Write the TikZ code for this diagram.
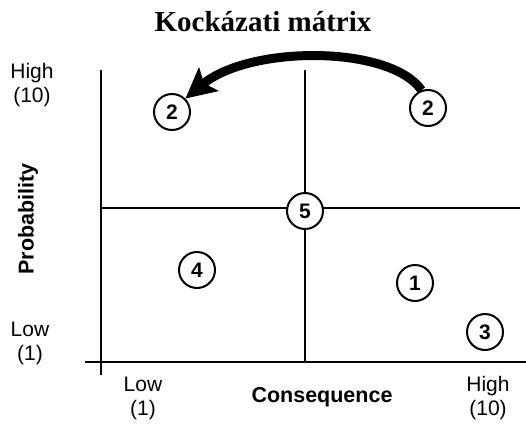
\documentclass[tikz,border=0pt]{standalone}
\usepackage{fontspec}
\setmainfont{Liberation Serif}
\setsansfont{Liberation Sans}
\usetikzlibrary{arrows.meta}
\newcommand{\labfont}{\sffamily\fontsize{21}{24}\selectfont}

\begin{document}
\begin{tikzpicture}[x=1pt,y=-1pt,>=Latex,
 axis/.style={line width=2pt},
 risk/.style={circle,draw,line width=2pt,fill=white,minimum size=36pt,inner sep=0pt,font=\sffamily\bfseries\fontsize{21}{24}\selectfont},
 lab/.style={align=center,font=\labfont},
 axlab/.style={font=\sffamily\bfseries\fontsize{21.5}{24}\selectfont}]
\useasboundingbox (0,0) rectangle (526,423);
\node[font=\rmfamily\bfseries\fontsize{29}{32}\selectfont] (title) at (263,22) {Kockázati mátrix};
% axes and quadrants
\draw[axis] (101,70) -- (101,375);
\draw[axis] (85,362) -- (526,362);
\draw[axis] (305,70) -- (305,362);
\draw[axis] (101,208) -- (520,208);
% risk items
\node[risk] (l2) at (172,112) {2};
\node[risk] (r2) at (428,108) {2};
\node[risk] (mid) at (305,211) {5};
\node[risk] (low4) at (197,270) {4};
\node[risk] (low1) at (415,283) {1};
\node[risk] (low3) at (485,332) {3};
\draw[line width=9pt,-{Stealth[length=30pt,width=30pt,inset=6pt]}] (r2.110) .. controls (390,45) and (250,45) .. (l2.north east);
% labels
\node[lab] (phigh) at (32,85) {High\\(10)};
\node[lab] (plow) at (30,343) {Low\\(1)};
\node[axlab,rotate=90] (prob) at (28,219) {Probability};
\node[lab] (clow) at (143,398) {Low\\(1)};
\node[lab] (chigh) at (488,398) {High\\(10)};
\node[axlab] (cons) at (322,397) {Consequence};
\end{tikzpicture}
\end{document}
